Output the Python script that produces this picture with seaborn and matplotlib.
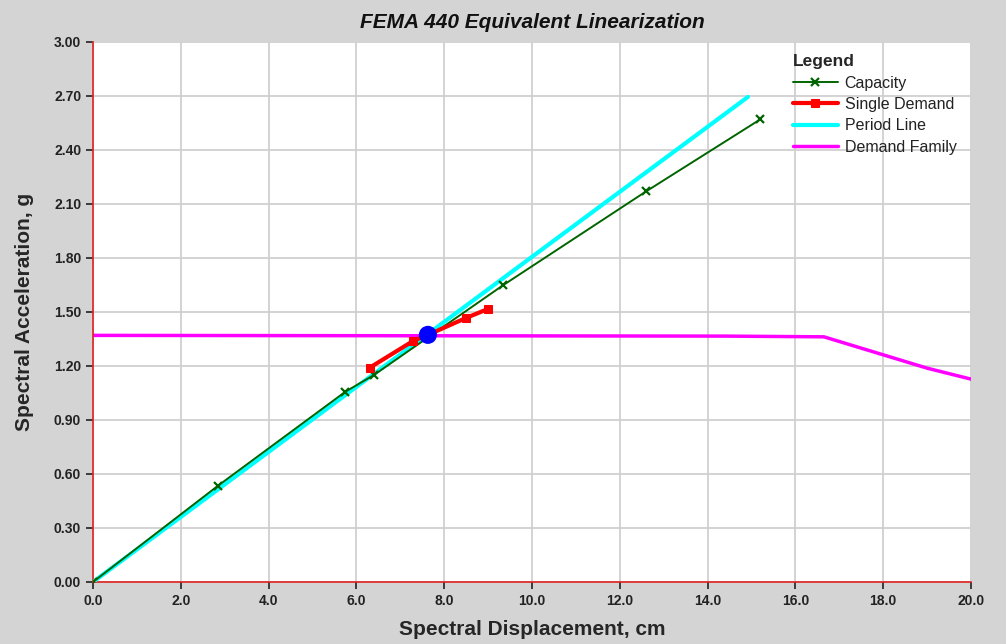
import numpy as np
import pandas as pd
import seaborn as sns
import matplotlib.pyplot as plt

# data
cap_x = [0.0, 2.85, 5.75, 6.4, 9.35, 12.6, 15.2]
cap_y = [0.0, 0.535, 1.057, 1.15, 1.65, 2.17, 2.57]

period_x = [0.0, 14.92]
period_y = [0.0, 2.695]

dem_x = [6.3, 7.3, 7.65, 8.5, 9.0]
dem_y = [1.19, 1.34, 1.375, 1.467, 1.517]

fam_x = [0.0, 14.4, 14.4, 16.65, 19.0, 20.0]
fam_y = [1.37, 1.37, 1.362, 1.362, 1.188, 1.127]

perf_x = [7.63]
perf_y = [1.373]

xticks = np.arange(0, 20.01, 2.0)
yticks = np.arange(0, 3.001, 0.3)

sns.set_style("whitegrid")
plt.rcParams['font.family'] = ['Liberation Sans', 'DejaVu Sans']

fig = plt.figure(figsize=(10.06, 6.44), dpi=100, facecolor='#d4d4d4')
ax = fig.add_axes([0.0924, 0.0963, 0.8728, 0.8385])
ax.set_facecolor('white')

sns.lineplot(x=fam_x, y=fam_y, ax=ax, color='#ff00ff', lw=2.5, label='Demand Family',
             sort=False, zorder=2)
sns.lineplot(x=period_x, y=period_y, ax=ax, color='#00ffff', lw=3, label='Period Line', zorder=3)
sns.lineplot(x=cap_x, y=cap_y, ax=ax, color='#006400', lw=1.4, marker='x', markersize=5.5,
             markeredgewidth=1.6, markeredgecolor='#006400', label='Capacity', zorder=4)
sns.lineplot(x=dem_x, y=dem_y, ax=ax, color='#ff0000', lw=3, marker='s', markersize=6,
             markeredgecolor='#ff0000', label='Single Demand', zorder=5)
sns.scatterplot(x=perf_x, y=perf_y, ax=ax, color='#0000ff', s=170, edgecolor='none', zorder=6)

ax.set_xlim(0, 20)
ax.set_ylim(0, 3.0)
ax.set_xticks(xticks)
ax.set_xticklabels([f"{v:.1f}" for v in xticks])
ax.set_yticks(yticks)
ax.set_yticklabels([f"{v:.2f}" for v in yticks])
ax.tick_params(axis='both', which='both', direction='out', length=5, width=1.2, color='#222222',
               labelsize=10, labelcolor='#222222', bottom=True, left=True)
for lab in ax.get_xticklabels() + ax.get_yticklabels():
    lab.set_fontweight('bold')
ax.grid(True, color='#d0d0d0', lw=1.3)

for s in ['top', 'right']:
    ax.spines[s].set_visible(False)
for s in ['left', 'bottom']:
    ax.spines[s].set_color('#e02020')
    ax.spines[s].set_linewidth(1.2)

ax.set_xlabel('Spectral Displacement, cm', fontsize=15, fontweight='bold', labelpad=9)
ax.set_ylabel('Spectral Acceleration, g', fontsize=15, fontweight='bold', labelpad=14)
ax.set_title('FEMA 440 Equivalent Linearization', fontsize=15, fontweight='bold',
             fontstyle='italic', pad=10, color='#111111')

handles, labels = ax.get_legend_handles_labels()
order = ['Capacity', 'Single Demand', 'Period Line', 'Demand Family']
hmap = dict(zip(labels, handles))
leg = ax.legend([hmap[k] for k in order], order, title='Legend', loc='upper right',
                bbox_to_anchor=(1.0, 1.004), frameon=False, fontsize=11.5, handlelength=2.8,
                handletextpad=0.45, labelspacing=0.4,
                title_fontproperties={'weight': 'bold', 'size': 12.5})
leg._legend_box.align = 'left'
for t in leg.get_texts():
    t.set_color('#222222')

fig.savefig('out.png', dpi=100, facecolor=fig.get_facecolor())
